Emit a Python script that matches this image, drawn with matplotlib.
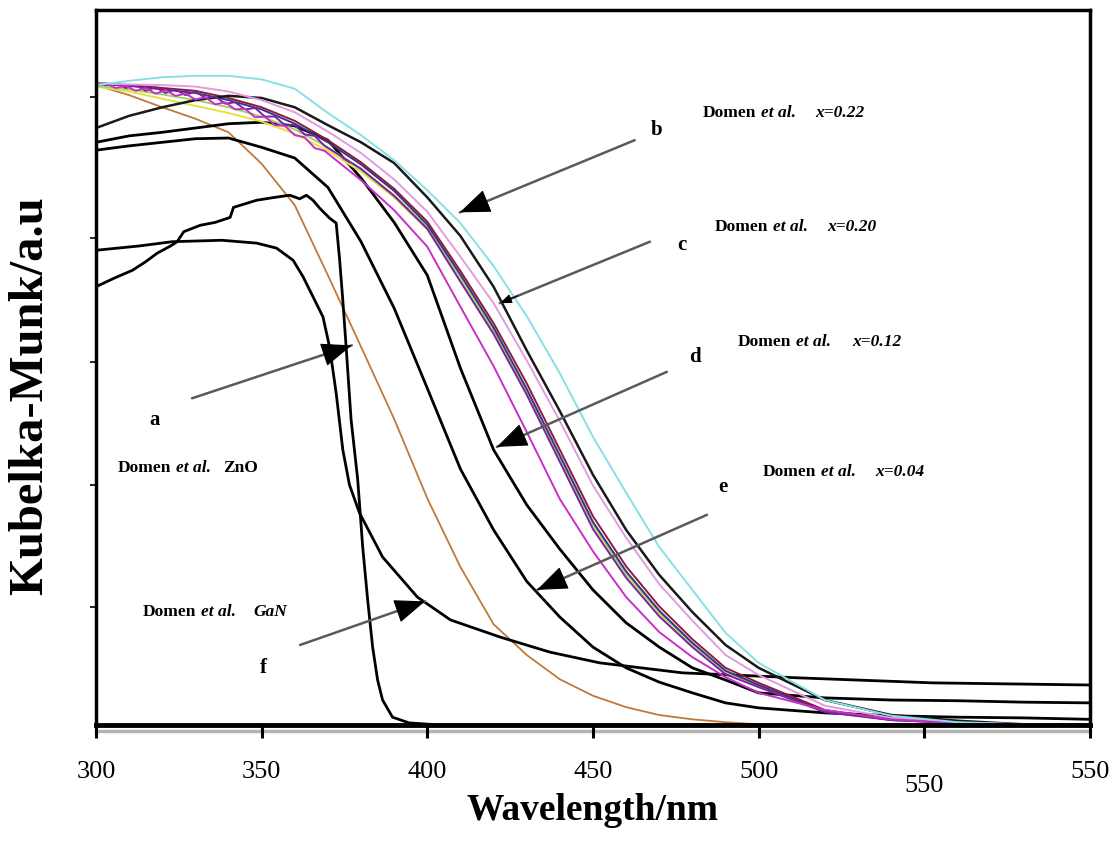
import matplotlib
matplotlib.use("Agg")
import matplotlib.pyplot as plt

plt.rcParams['font.family'] = ['Liberation Serif', 'DejaVu Serif']

# wavelength grid shared by the smooth spectra (nm)
wl = [300, 310, 320, 330, 340, 350, 360, 370, 380, 390, 400, 410, 420,
      430, 440, 450, 460, 470, 480, 490, 500, 520, 540, 560, 580, 600]

# Kubelka-Munk intensities (arbitrary units)
km_cyan = [0.895, 0.901, 0.906, 0.908, 0.908, 0.903, 0.890, 0.856, 0.825, 0.790, 0.748, 0.702, 0.642,
           0.572, 0.492, 0.403, 0.325, 0.249, 0.189, 0.129, 0.087, 0.035, 0.013, 0.004, 0.001, 0.0]
km_pink = [0.897, 0.896, 0.895, 0.893, 0.886, 0.874, 0.857, 0.830, 0.800, 0.763, 0.718, 0.655, 0.590,
           0.510, 0.425, 0.335, 0.262, 0.197, 0.146, 0.098, 0.070, 0.027, 0.010, 0.003, 0.001, 0.0]
km_red = [0.898, 0.895, 0.891, 0.887, 0.877, 0.864, 0.845, 0.818, 0.787, 0.750, 0.704, 0.635, 0.562,
          0.478, 0.385, 0.292, 0.222, 0.166, 0.120, 0.080, 0.059, 0.021, 0.008, 0.003, 0.001, 0.0]
km_navy = [0.897, 0.894, 0.889, 0.884, 0.874, 0.861, 0.841, 0.815, 0.784, 0.747, 0.700, 0.630, 0.556,
           0.470, 0.377, 0.284, 0.215, 0.160, 0.115, 0.076, 0.056, 0.020, 0.007, 0.003, 0.001, 0.0]
km_yellow = [0.893, 0.886, 0.876, 0.866, 0.856, 0.844, 0.827, 0.803, 0.774, 0.738, 0.693, 0.622, 0.550,
             0.466, 0.372, 0.279, 0.210, 0.156, 0.112, 0.074, 0.055, 0.019, 0.007, 0.003, 0.001, 0.0]
km_green = [0.894, 0.889, 0.882, 0.874, 0.864, 0.851, 0.833, 0.808, 0.777, 0.741, 0.697, 0.626, 0.553,
            0.468, 0.374, 0.281, 0.212, 0.158, 0.113, 0.075, 0.055, 0.019, 0.007, 0.003, 0.001, 0.0]
km_black_b = [0.835, 0.852, 0.864, 0.874, 0.880, 0.877, 0.864, 0.839, 0.815, 0.786, 0.738, 0.684, 0.613,
              0.524, 0.439, 0.350, 0.273, 0.210, 0.158, 0.112, 0.080, 0.035, 0.014, 0.006, 0.001, 0.0]
km_k1 = [0.804, 0.810, 0.815, 0.820, 0.821, 0.808, 0.793, 0.752, 0.676, 0.583, 0.471, 0.358, 0.273,
         0.201, 0.151, 0.109, 0.080, 0.060, 0.045, 0.031, 0.024, 0.017, 0.013, 0.011, 0.010, 0.008]
km_k2 = [0.815, 0.824, 0.829, 0.835, 0.841, 0.843, 0.838, 0.818, 0.765, 0.703, 0.629, 0.499, 0.385,
         0.308, 0.246, 0.189, 0.143, 0.109, 0.080, 0.063, 0.045, 0.038, 0.035, 0.034, 0.032, 0.031]
km_brown = [0.895, 0.881, 0.864, 0.848, 0.829, 0.785, 0.727, 0.629, 0.529, 0.428, 0.317, 0.221, 0.141,
            0.098, 0.064, 0.041, 0.025, 0.014, 0.008, 0.004, 0.001, 0.0, 0.0, 0.0, 0.0, 0.0]

# the two noisiest traces are sampled finer below 370 nm
wl_fine = [300, 303, 306, 309, 312, 315, 318, 321, 324, 327, 330, 333, 336, 339, 342, 345, 348, 351,
           354, 357, 360, 363, 366, 369, 380, 390, 400, 410, 420, 430, 440, 450, 460, 470, 480, 490,
           500, 520, 540, 560, 580, 600]
km_purple = [0.898, 0.895, 0.898, 0.891, 0.895, 0.887, 0.892, 0.884, 0.889, 0.881, 0.886, 0.877, 0.879,
             0.869, 0.871, 0.861, 0.863, 0.851, 0.851, 0.839, 0.839, 0.826, 0.824, 0.810, 0.778, 0.740,
             0.694, 0.620, 0.547, 0.462, 0.368, 0.274, 0.206, 0.152, 0.109, 0.071, 0.053, 0.018, 0.007,
             0.003, 0.001, 0.0]
km_magenta = [0.895, 0.897, 0.891, 0.894, 0.887, 0.891, 0.883, 0.888, 0.880, 0.883, 0.875, 0.878, 0.868,
              0.871, 0.861, 0.862, 0.850, 0.851, 0.839, 0.838, 0.825, 0.822, 0.807, 0.803, 0.762, 0.720,
              0.669, 0.585, 0.502, 0.410, 0.316, 0.243, 0.179, 0.130, 0.095, 0.067, 0.045, 0.021, 0.008,
              0.003, 0.001, 0.0]

# ZnO reference spectrum (sharp edge)
wl_zno = [300, 305.5, 311, 315, 318.5, 322.5, 324.5, 326.5, 331.5, 336, 340.5, 341.5, 348.5, 354,
          358.5, 361.5, 363.5, 365.5, 367.5, 370.5, 372.5, 373.5, 374.5, 375.5, 377, 379, 380.5,
          382, 383.5, 385, 386.5, 389.5, 394.5, 404, 600]
km_zno = [0.613, 0.625, 0.636, 0.648, 0.660, 0.670, 0.676, 0.690, 0.699, 0.703, 0.710, 0.724, 0.734,
          0.738, 0.741, 0.736, 0.741, 0.734, 0.723, 0.709, 0.702, 0.653, 0.594, 0.529, 0.427, 0.343,
          0.249, 0.175, 0.109, 0.063, 0.035, 0.011, 0.003, 0.0, 0.0]

# GaN reference spectrum
wl_gan = [300, 313, 323, 338, 348.5, 354.5, 359.5, 362.5, 365.5, 368.5, 370.5, 372.5, 374.5, 376.5,
          379.5, 386.5, 397, 407, 422, 437, 452, 477, 512, 552.5, 600]
km_gan = [0.664, 0.670, 0.676, 0.678, 0.674, 0.667, 0.650, 0.627, 0.599, 0.571, 0.529, 0.464, 0.385,
          0.336, 0.297, 0.235, 0.179, 0.147, 0.123, 0.102, 0.087, 0.073, 0.066, 0.059, 0.056]

tick_pos = [300, 350, 400, 450, 500, 550, 600]
tick_text = ["300", "350", "400", "450", "500", "550", "550"]

fig = plt.figure(figsize=(11.12, 8.65), dpi=100)
ax = fig.add_axes([0.0863, 0.1618, 0.8939, 0.8266])

ax.plot(wl, km_brown, color='#c0793a', lw=1.3)
ax.plot(wl_zno, km_zno, color='black', lw=2.0)
ax.plot(wl_gan, km_gan, color='black', lw=2.0)
ax.plot(wl, km_k1, color='black', lw=2.0)
ax.plot(wl, km_k2, color='black', lw=2.0)

bundle = [
    (wl, km_yellow, '#e8e040'),
    (wl, km_green, '#9bd46a'),
    (wl, km_navy, '#34348c'),
    (wl, km_red, '#8e1a3c'),
    (wl, km_black_b, '#1a1a1a'),
    (wl_fine, km_purple, '#7a22a6'),
    (wl, km_pink, '#e39be0'),
    (wl_fine, km_magenta, '#c82fc8'),
    (wl, km_cyan, '#86e0e4'),
]
for xs, vals, col in bundle:
    ax.plot(xs, vals, color=col, lw=1.8 if col == '#1a1a1a' else 1.4)

ax.set_xlim(300, 600)
ax.set_ylim(0, 1.0)

ax.set_xticks(tick_pos)
ax.set_xticklabels([])
ax.tick_params(axis='x', direction='out', length=9, width=2.2)
ax.set_yticks([0.165, 0.336, 0.508, 0.681, 0.878])
ax.set_yticklabels([])
ax.tick_params(axis='y', direction='out', length=4, width=1.2)

for side in ['left', 'top', 'right']:
    ax.spines[side].set_linewidth(2.5)
ax.spines['bottom'].set_linewidth(3.5)
# grey shadow just under the x axis line
ax.axhline(-0.008, color='#b4b4b4', lw=2.5, clip_on=False, zorder=1)

# tick labels, the 550 under the sixth tick sits a little lower
for pos, txt in zip(tick_pos, tick_text):
    dy = -0.085 if pos == 550 else -0.066
    ax.text(pos, dy, txt, ha='center', va='center', fontsize=19,
            transform=ax.get_xaxis_transform())

ax.text(0.5, -0.12, 'Wavelength/nm', ha='center', va='center', fontsize=27,
        fontweight='bold', transform=ax.transAxes)
fig.text(0.027, 0.543, 'Kubelka-Munk/a.u', rotation=90, ha='center', va='center',
         fontsize=35, fontweight='bold')

# pointer arrows: (tail, head, head size)
arrows = [
    ((462.6, 0.818), (409.8, 0.717), 22),
    ((467.2, 0.676), (421.9, 0.590), 8),
    ((472.3, 0.494), (421.0, 0.389), 22),
    ((484.4, 0.294), (433.1, 0.189), 22),
    ((329.0, 0.457), (377.2, 0.531), 22),
    ((361.6, 0.112), (399.3, 0.173), 22),
]
for tail, head, ms in arrows:
    ax.annotate('', xy=head, xytext=tail,
                arrowprops=dict(arrowstyle='-', color='#5a5a5a', lw=1.8,
                                shrinkA=0, shrinkB=0))
    # solid black head on the last bit of the shaft
    mid = (head[0] + (tail[0] - head[0]) * 0.12, head[1] + (tail[1] - head[1]) * 0.12)
    ax.annotate('', xy=head, xytext=mid,
                arrowprops=dict(arrowstyle='-|>,head_length=0.9,head_width=0.35',
                                mutation_scale=ms, color='black', lw=0.8,
                                shrinkA=0, shrinkB=0))

letters = [('b', 469.3, 0.832), ('c', 476.8, 0.671), ('d', 480.7, 0.515),
           ('e', 489.2, 0.333), ('a', 317.8, 0.427), ('f', 350.4, 0.080)]
for s, x, y in letters:
    ax.text(x, y, s, fontsize=15, fontweight='bold', ha='center', va='center')

# sample notes written piecewise: (text, x, y, italic)
notes = [
    ('Domen', 483.2, 0.856, False), ('et al.', 500.7, 0.856, True), ('x=0.22', 517.0, 0.856, True),
    ('Domen', 486.8, 0.697, False), ('et al.', 504.3, 0.697, True), ('x=0.20', 520.6, 0.697, True),
    ('Domen', 493.7, 0.536, False), ('et al.', 511.2, 0.536, True), ('x=0.12', 528.1, 0.536, True),
    ('Domen', 501.3, 0.354, False), ('et al.', 518.8, 0.354, True), ('x=0.04', 535.1, 0.354, True),
    ('Domen', 306.6, 0.359, False), ('et al.', 324.1, 0.359, True), ('ZnO', 338.3, 0.359, False),
    ('Domen', 314.2, 0.158, False), ('et al.', 331.7, 0.158, True), ('GaN', 347.4, 0.158, True),
]
for s, x, y, it in notes:
    ax.text(x, y, s, fontsize=12.5, fontweight='bold', ha='left', va='center',
            fontstyle='italic' if it else 'normal')

fig.savefig('out.png', dpi=100)
